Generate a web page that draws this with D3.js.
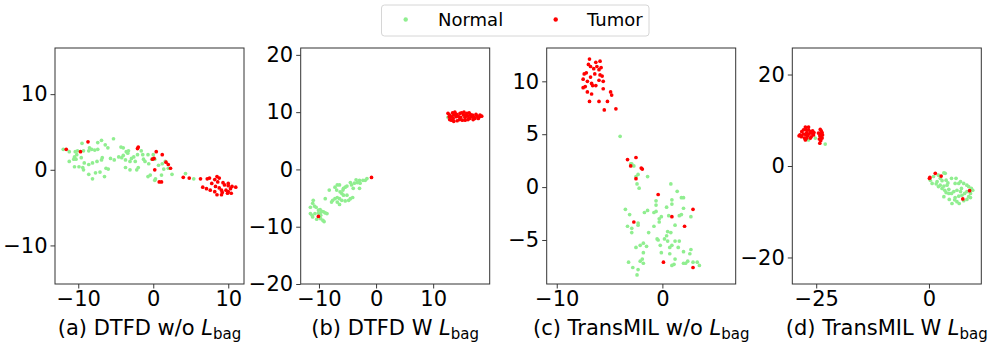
<!DOCTYPE html>
<html>
<head>
<meta charset="utf-8">
<script src="https://cdn.jsdelivr.net/npm/d3@7"></script>
<style>
  body { margin: 0; background: #fff; }
  svg { display: block; font-family: "DejaVu Sans", sans-serif; }
</style>
</head>
<body>
<div id="chart"></div>
<script>
// t-SNE style scatter: four panels, Normal vs Tumor
var titlePrefixes = ['(a) DTFD w/o ', '(b) DTFD W ', '(c) TransMIL w/o ', '(d) TransMIL W '];
var titleSymbol = 'L', titleSub = 'bag';
var seriesNames = ['Normal', 'Tumor'];
var seriesColors = ['#90ee90', '#ff0000'];

var xDomains = [[-13.1, 12.1], [-13.2, 19.9], [-10.95, 6.94], [-30.3, 11.6]];
var yDomains = [[-15.1, 16.1], [-20, 21.2], [-9.16, 13.15], [-25.8, 25.8]];
var xTicks = [[-10, 0, 10], [-10, 0, 10], [-10, 0], [-25, 0]];
var yTicks = [[-10, 0, 10], [-20, -10, 0, 10, 20], [-5, 0, 5, 10], [-20, 0, 20]];

var normalA = [[-12.0,2.7],[-11.2,2.4],[-10.4,2.4],[-10.1,2.5],[-10.2,2.0],[-10.5,1.7],[-10.6,1.4],[-11.2,1.1],
  [-10.3,1.4],[-9.6,1.6],[-9.3,2.5],[-8.6,2.5],[-8.2,2.7],[-7.8,2.6],[-7.4,2.7],[-8.5,2.9],[-9.5,3.5],[-7.4,3.6],
  [-6.9,3.9],[-6.4,3.3],[-6.05,2.9],[-5.3,4.1],[-6.8,1.6],[-6.9,1.3],[-7.5,1.1],[-8.1,0.9],[-8.6,0.7],[-9.2,0.9],
  [-9.9,0.4],[-9.4,0.3],[-10.5,0.4],[-9.3,0.0],[-8.6,-0.6],[-7.7,-0.4],[-7.1,-0.3],[-8.1,-1.2],[-6.5,-0.9],[-6.3,0.2],
  [-6.0,0.1],[-5.7,1.5],[-5.2,1.3],[-4.6,1.7],[-4.2,1.6],[-4.0,1.9],[-3.6,2.4],[-4.0,2.9],[-4.3,3.0],[-3.3,2.5],
  [-3.4,2.2],[-3.7,1.3],[-3.1,1.1],[-2.9,1.5],[-2.4,1.1],[-2.6,1.7],[-2.1,2.0],[-1.6,2.5],[-1.4,2.0],[-1.3,1.4],
  [-1.1,1.1],[-2.2,0.0],[-3.1,0.0],[-3.7,0.3],[-2.0,0.3],[-0.7,2.0],[-0.6,0.8],[-0.2,1.4],[0.0,2.0],[0.2,1.4],
  [0.7,0.6],[1.2,0.8],[1.6,1.1],[1.4,0.1],[2.0,0.2],[2.5,-0.6],[0.3,-1.2],[-0.4,-0.7],[-0.7,-0.9],[0.2,-1.4],
  [1.1,-0.7],[4.3,-0.5],[5.4,-1.2]];
var tumorA = [[-11.6,2.7],[-8.7,3.7],[-9.7,2.4],[-2.0,3.0],[-2.1,2.8],[0.4,2.4],[1.2,2.0],[0.1,1.5],[-0.1,1.4],
  [1.7,1.0],[2.0,0.7],[2.3,0.2],[0.2,0.0],[1.1,-1.6],[0.8,-1.6],[4.0,-1.0],[4.8,-1.1],[6.3,-1.2],[7.2,-1.2],
  [7.5,-1.1],[8.2,-1.3],[8.5,-0.9],[8.8,-1.1],[7.8,-1.8],[8.6,-1.6],[9.3,-1.7],[10.0,-1.8],[6.6,-2.3],[7.1,-2.5],
  [7.6,-2.7],[8.3,-2.2],[8.8,-2.4],[9.5,-2.0],[10.0,-2.1],[10.5,-2.2],[11.0,-2.3],[8.2,-2.9],[8.5,-3.3],[9.1,-3.3],
  [9.2,-3.0],[9.7,-2.7],[10.0,-2.9],[10.4,-3.1],[10.3,-2.5],[9.9,-3.1],[9.1,-2.7]];

var normalB = [[-1.6,-1.6],[-1.9,-1.9],[-2.3,-1.9],[-2.9,-1.9],[-3.5,-1.8],[-3.3,-2.3],[-2.8,-2.4],[-2.9,-3.3],
  [-3.8,-2.4],[-4.3,-2.7],[-4.5,-2.3],[-4.0,-3.3],[-5.1,-2.9],[-5.4,-3.1],[-5.7,-3.3],[-5.8,-3.6],[-6.4,-2.7],
  [-6.8,-2.7],[-7.2,-3.1],[-6.9,-3.6],[-6.3,-3.9],[-6.0,-4.2],[-5.7,-4.5],[-5.1,-4.5],[-4.5,-5.1],[-4.1,-4.9],
  [-4.8,-5.4],[-5.4,-5.5],[-6.0,-5.4],[-6.4,-5.1],[-6.8,-4.9],[-7.2,-5.1],[-7.6,-5.4],[-7.8,-5.7],[-6.8,-5.7],
  [-6.4,-6.1],[-8.2,-3.6],[-8.9,-5.1],[-11.0,-5.4],[-11.1,-5.9],[-11.5,-6.6],[-10.8,-6.4],[-10.5,-6.6],[-10.1,-7.1],
  [-9.8,-7.0],[-9.5,-7.3],[-9.2,-7.4],[-8.9,-7.6],[-10.1,-7.6],[-10.7,-7.7],[-11.2,-8.0],[-11.5,-7.7],[-11.1,-8.3],
  [-10.4,-8.7],[-9.7,-8.6],[-9.3,-8.9],[-9.1,-9.1],[-8.6,-7.7],[-9.7,-8.0],[-9.8,-7.7],
  [12.6,9.1],[13.5,9.5],[15.5,9.2]];
var tumorB = [[-0.8,-1.4],[-10.1,-8.2],
  [12.6,9.8],[12.9,9.5],[13.2,9.2],[13.5,8.9],[13.4,9.9],[13.8,10.0],[14.1,9.6],[14.4,9.3],[14.6,8.7],[15.0,9.9],
  [15.3,9.5],[15.6,9.1],[15.4,10.0],[15.9,9.8],[16.1,9.3],[16.4,8.9],[16.5,9.6],[16.9,9.5],[17.1,9.2],[17.5,9.6],
  [17.7,9.3],[18.2,9.5],[18.5,9.3],[17.9,8.9],[17.0,8.7],[16.1,8.7],[15.1,8.6],[14.2,8.5],[13.6,8.4],[13.2,8.6],
  [12.8,9.2],[14.8,9.1],[15.7,9.5],[16.7,9.2],[17.3,8.9],[18.1,9.2],[14.0,9.2],[14.7,9.8],[16.3,9.9],[12.9,8.7],
  [13.6,9.5],[15.6,8.6]];

var normalC = [[-4.0,4.8],[-3.0,2.2],[-2.9,2.2],[-2.7,2.0],[-2.3,1.2],[-2.5,1.0],[-2.4,0.3],[-2.2,-0.1],[-1.4,1.0],
  [0.8,0.3],[1.4,-0.4],[1.8,-1.0],[2.0,-1.0],[0.9,-1.2],[0.9,-1.6],[0.4,-1.9],[-0.6,-1.3],[-0.6,-1.7],[2.0,-2.0],
  [-1.4,-2.2],[-1.7,-2.4],[-0.8,-2.4],[-0.6,-2.3],[-3.5,-2.1],[-3.1,-2.6],[-0.1,-2.8],[-0.3,-3.0],[-0.3,-3.3],
  [0.6,-2.7],[1.6,-2.7],[1.8,-2.6],[2.7,-2.8],[-3.3,-3.7],[-2.3,-3.4],[-2.3,-3.6],[-2.9,-3.9],[-2.9,-4.3],
  [-0.8,-3.7],[1.2,-3.6],[-1.3,-4.3],[0.5,-4.2],[0.8,-4.3],[-0.5,-4.9],[-0.4,-5.0],[0.2,-4.9],[0.4,-4.6],
  [-0.2,-5.5],[0.5,-5.1],[0.7,-5.7],[0.9,-5.5],[1.2,-5.1],[1.6,-5.1],[1.5,-5.7],[-2.5,-5.7],[-2.1,-5.5],
  [-1.8,-5.3],[-1.5,-5.6],[-1.8,-6.2],[-0.1,-6.2],[0.7,-6.3],[2.0,-6.1],[2.7,-5.9],[2.6,-6.3],[-2.1,-7.0],
  [-1.9,-6.8],[-1.8,-7.2],[-3.2,-7.1],[-2.8,-7.6],[-2.3,-7.8],[-2.4,-8.3],[1.2,-6.8],[1.1,-7.3],[0.9,-7.4],
  [2.0,-7.2],[2.2,-7.2],[2.4,-7.0],[2.9,-7.1],[3.3,-7.1],[3.5,-7.4]];
var tumorC = [[-6.9,12.1],[-6.3,11.8],[-5.9,11.9],[-7.0,11.6],[-6.8,11.4],[-6.2,11.4],[-5.8,11.3],[-6.5,11.2],
  [-6.0,11.1],[-7.2,10.8],[-7.4,10.7],[-6.4,10.7],[-5.9,10.6],[-5.7,10.5],[-6.8,10.4],[-7.5,10.2],[-7.1,10.0],
  [-6.0,10.1],[-5.6,10.0],[-6.7,9.8],[-6.6,9.6],[-6.3,9.6],[-7.3,9.5],[-7.5,9.4],[-5.6,9.3],[-7.1,9.0],[-6.7,8.8],
  [-4.9,9.0],[-4.8,8.7],[-6.9,8.1],[-6.0,8.1],[-5.2,8.1],[-5.5,7.3],[-4.4,7.4],[-3.3,2.6],[-2.5,2.8],[-3.0,2.0],
  [-2.0,1.8],[-1.9,1.7],[-2.5,0.8],[-0.4,-0.7],[2.9,-2.1],[0.9,-2.8],[-2.7,-3.3],[2.1,-3.7],[0.1,-7.1],[2.9,-7.6]];

var normalD = [[-26.7,5.7],[-25.2,6.1],[-23.0,4.8],
  [0.3,-3.1],[1.0,-2.3],[2.1,-2.0],[3.3,-1.5],[3.6,-1.6],[2.5,-2.7],[1.8,-3.4],[2.9,-3.2],[3.8,-3.1],[0.7,-3.8],
  [1.6,-3.9],[2.5,-4.2],[3.3,-4.4],[4.0,-4.2],[2.1,-4.5],[2.9,-4.9],[3.5,-5.3],[4.4,-5.1],[4.2,-3.7],[5.0,-2.7],
  [6.0,-2.7],[5.8,-3.8],[6.6,-3.8],[7.0,-3.4],[7.7,-3.8],[8.4,-4.2],[8.8,-4.5],[9.4,-4.9],[9.7,-5.3],[9.2,-6.0],
  [8.4,-5.6],[7.9,-6.0],[7.3,-6.4],[6.6,-6.6],[5.8,-6.9],[5.7,-7.4],[6.2,-7.8],[6.7,-8.2],[7.7,-7.6],[8.4,-7.3],
  [8.8,-6.7],[7.0,-5.6],[6.2,-5.3],[5.5,-5.6],[5.0,-6.0],[4.4,-6.0],[3.3,-6.7],[4.5,-7.3],[5.1,-8.2],[3.8,-5.8],
  [7.2,-4.9],[9.2,-6.9]];
var tumorD = [[-27.4,8.5],[-27.3,8.0],[-28.2,7.5],[-28.6,6.8],[-28.3,6.4],[-27.8,7.0],[-27.1,7.3],[-26.7,7.9],
  [-26.3,7.5],[-26.0,7.2],[-25.6,6.8],[-26.1,6.4],[-26.9,6.6],[-27.6,6.1],[-27.4,5.7],[-26.6,7.0],[-25.8,7.7],
  [-27.8,7.9],[-27.1,6.1],[-28.2,6.6],[-26.3,6.1],[-25.5,7.3],[-28.8,6.6],[-27.3,6.8],[-26.7,8.5],
  [-24.1,8.0],[-23.9,7.7],[-23.7,7.3],[-24.0,7.0],[-24.2,6.6],[-23.9,6.3],[-24.3,5.9],[-24.0,5.6],[-24.2,5.0],
  [-23.6,6.8],[-24.5,7.2],[-23.7,6.1],
  [0.1,-2.7],[0.2,-2.5],[1.4,-1.6],[2.7,-2.2],[9.0,-5.4],[7.5,-7.2]];

var normals = [normalA, normalB, normalC, normalD],
  tumors = [tumorA, tumorB, tumorC, tumorD];

var width = 996,
  height = 349,
  boxLefts = [55, 300.7, 546.7, 792.3],
  boxW = 189,
  boxTop = 48,
  boxBottom = 284,
  dotR = 1.85,
  tickFont = 21;

var svg = d3.select('#chart').append('svg')
  .attr('width', width)
  .attr('height', height);

function fmt(d) {
  return d < 0 ? '\u2212' + Math.abs(d) : '' + d;
}

d3.range(4).forEach(function (i) {
  var x = d3.scaleLinear().domain(xDomains[i]).range([boxLefts[i], boxLefts[i] + boxW]),
    y = d3.scaleLinear().domain(yDomains[i]).range([boxBottom, boxTop]),
    g = svg.append('g');

  var xa = g.append('g')
    .attr('transform', 'translate(0,' + boxBottom + ')')
    .call(d3.axisBottom(x).tickValues(xTicks[i]).tickFormat(fmt).tickSizeOuter(0).tickSize(4.5).tickPadding(3));
  var ya = g.append('g')
    .attr('transform', 'translate(' + boxLefts[i] + ',0)')
    .call(d3.axisLeft(y).tickValues(yTicks[i]).tickFormat(fmt).tickSizeOuter(0).tickSize(4.5).tickPadding(3));

  [xa, ya].forEach(function (a) {
    a.select('.domain').remove();
    a.selectAll('line').attr('stroke', '#222').attr('stroke-width', 0.9);
    a.selectAll('text')
      .attr('fill', '#000')
      .style('font-family', '"DejaVu Sans", sans-serif')
      .style('font-size', tickFont + 'px');
  });

  g.append('rect')
    .attr('x', boxLefts[i])
    .attr('y', boxTop)
    .attr('width', boxW)
    .attr('height', boxBottom - boxTop)
    .attr('fill', 'none')
    .attr('stroke', '#333')
    .attr('stroke-width', 1);

  [normals[i], tumors[i]].forEach(function (pts, k) {
    g.append('g').selectAll('circle')
      .data(pts)
      .enter()
      .append('circle')
      .attr('cx', function (d) { return x(d[0]); })
      .attr('cy', function (d) { return y(d[1]); })
      .attr('r', dotR)
      .style('fill', seriesColors[k]);
  });

  var t = g.append('text')
    .attr('x', boxLefts[i] + boxW / 2)
    .attr('y', 335)
    .attr('text-anchor', 'middle')
    .style('font-size', '21px')
    .attr('fill', '#000');
  t.append('tspan').text(titlePrefixes[i]);
  t.append('tspan').style('font-style', 'italic').text(titleSymbol);
  t.append('tspan').attr('dy', 4).style('font-size', '15px').text(titleSub);
});

// legend
var legend = svg.append('g');
legend.append('rect')
  .attr('x', 381.5)
  .attr('y', 5)
  .attr('width', 267.5)
  .attr('height', 31)
  .attr('rx', 3)
  .attr('fill', '#fff')
  .attr('stroke', '#d6d6d6')
  .attr('stroke-width', 1);

var legendDotX = [405.7, 555.7],
  legendTextX = [438, 587];
seriesNames.forEach(function (name, k) {
  legend.append('circle')
    .attr('cx', legendDotX[k])
    .attr('cy', 19.5)
    .attr('r', 2.2)
    .style('fill', seriesColors[k]);
  legend.append('text')
    .attr('x', legendTextX[k])
    .attr('y', 26)
    .style('font-size', '18px')
    .attr('fill', '#000')
    .text(name);
});
</script>
</body>
</html>
